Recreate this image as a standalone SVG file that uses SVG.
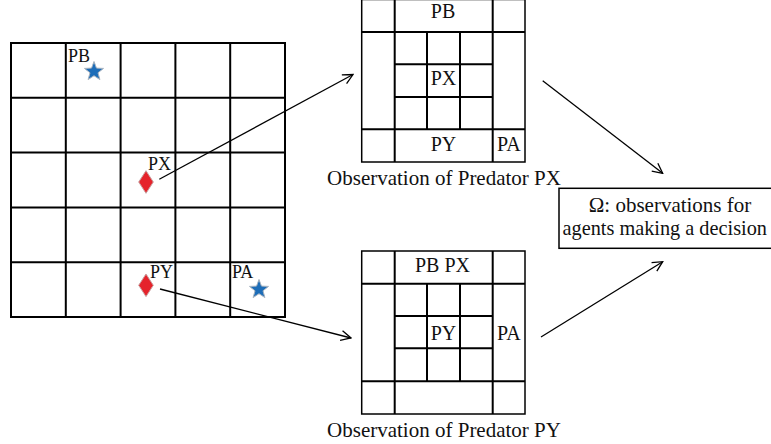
<svg xmlns="http://www.w3.org/2000/svg" width="771" height="444" viewBox="0 0 771 444">
  <style>
    .grid { fill: none; stroke: #000; stroke-width: 2; }
    .edge { fill: none; stroke: #000; stroke-width: 1.5; }
    .lbl { font-family: "Liberation Serif", "Times New Roman", serif; fill: #111; }
    .small { font-size: 18px; }
    .mid { font-size: 20px; }
    .cap { font-size: 21px; }
    .conn { fill: none; stroke: #000; stroke-width: 1.3; marker-end: url(#arrow); }
    .star { fill: #1d6db8; stroke: #a9b4c0; stroke-width: 1; }
    .pred { fill: #e5232b; stroke: #c9a0a0; stroke-width: 1; }
  </style>
  <defs>
    <marker id="arrow" viewBox="0 0 12 12" refX="11" refY="6" markerWidth="12" markerHeight="12" markerUnits="userSpaceOnUse" orient="auto">
      <path d="M1,1 L11,6 L1,11" fill="none" stroke="#000" stroke-width="1.3"/>
    </marker>
    <polygon id="star" points="0,-10 2.47,-3.4 9.51,-3.09 3.99,1.3 5.88,8.09 0,4.2 -5.88,8.09 -3.99,1.3 -9.51,-3.09 -2.47,-3.4"/>
    <polygon id="diamond" points="0,-11.3 7.3,0 0,11.3 -7.3,0"/>
  </defs>

  <rect width="771" height="444" fill="#fff"/>

  <!-- 5x5 world grid -->
  <g id="world">
    <rect class="grid" x="11" y="43" width="274" height="274"/>
    <path class="grid" d="M65.8,43V317 M120.6,43V317 M175.4,43V317 M230.2,43V317 M11,97.8H285 M11,152.6H285 M11,207.4H285 M11,262.2H285"/>
  </g>

  <!-- agents placed on the world grid -->
  <g id="agent-PB">
    <use href="#star" class="star" x="94" y="71.5"/>
    <text class="lbl small" x="68" y="62">PB</text>
  </g>
  <g id="agent-PX">
    <use href="#diamond" class="pred" x="146" y="182"/>
    <text class="lbl small" x="148" y="170">PX</text>
  </g>
  <g id="agent-PY">
    <use href="#diamond" class="pred" x="146" y="285.3"/>
    <text class="lbl small" x="150" y="278">PY</text>
  </g>
  <g id="agent-PA">
    <use href="#star" class="star" x="259" y="289.5"/>
    <text class="lbl small" x="232" y="278">PA</text>
  </g>

  <!-- local view of predator PX -->
  <g id="obs-PX">
    <rect class="edge" x="361.7" y="-0.5" width="163.3" height="162.5"/>
    <path class="grid" d="M361.7,32H525 M361.7,129.3H525 M394.7,-0.5V162 M492.7,-0.5V162"/>
    <path class="grid" d="M427,32V129.3 M460,32V129.3 M394.7,64.3H492.7 M394.7,97H492.7" stroke-width="1.8"/>
    <text class="lbl mid" x="443" y="18" text-anchor="middle">PB</text>
    <text class="lbl mid" x="443.5" y="85" text-anchor="middle">PX</text>
    <text class="lbl mid" x="443.5" y="150.5" text-anchor="middle">PY</text>
    <text class="lbl mid" x="508.8" y="150.5" text-anchor="middle">PA</text>
    <text class="lbl cap" x="444" y="185" text-anchor="middle">Observation of Predator PX</text>
  </g>

  <!-- local view of predator PY -->
  <g id="obs-PY">
    <rect class="edge" x="361.7" y="251" width="163.3" height="163"/>
    <path class="grid" d="M361.7,283.7H525 M361.7,381.3H525 M394.7,251V414 M492.7,251V414"/>
    <path class="grid" d="M427,283.7V381.3 M460,283.7V381.3 M394.7,316H492.7 M394.7,348.3H492.7" stroke-width="1.8"/>
    <text class="lbl mid" x="442.5" y="272" text-anchor="middle">PB PX</text>
    <text class="lbl mid" x="443.5" y="340" text-anchor="middle">PY</text>
    <text class="lbl mid" x="508.8" y="340" text-anchor="middle">PA</text>
    <text class="lbl cap" x="444" y="436.5" text-anchor="middle">Observation of Predator PY</text>
  </g>

  <!-- joint observation set (box runs past the right edge) -->
  <g id="omega">
    <rect class="edge" x="559" y="188.3" width="260" height="60"/>
    <text class="lbl cap" x="670" y="212.3" text-anchor="middle">Ω: observations for</text>
    <text class="lbl" x="562.5" y="235" font-size="20.3">agents making a decision</text>
  </g>

  <g id="connectors">
    <path class="conn" d="M159.3,179.3 L353,74.5"/>
    <path class="conn" d="M160,289 L351,338"/>
    <path class="conn" d="M542.7,80.7 L662.7,173.3"/>
    <path class="conn" d="M541,337 L662.7,261.7"/>
  </g>
</svg>
